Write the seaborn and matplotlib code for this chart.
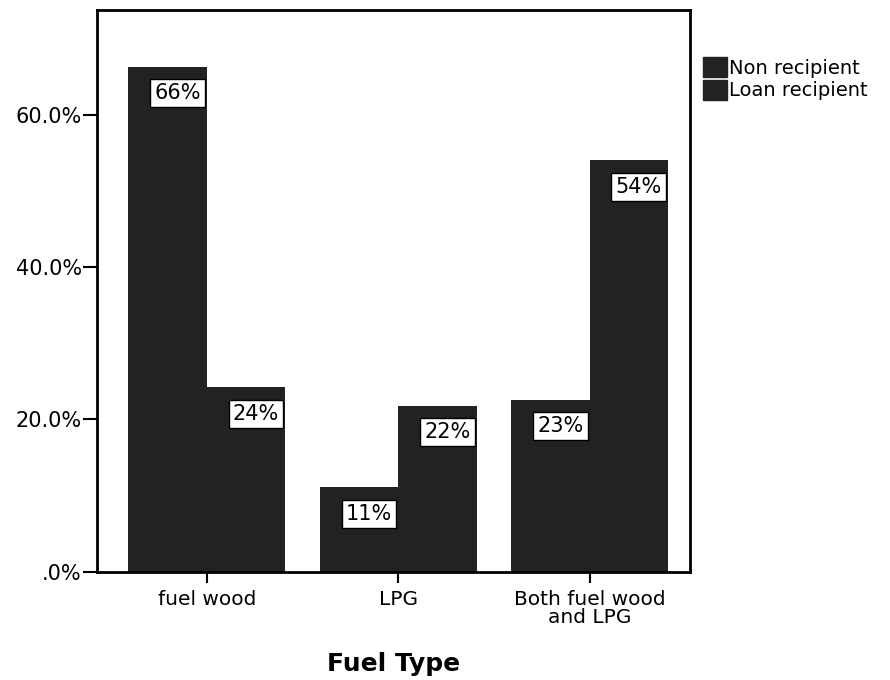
import matplotlib
matplotlib.use("Agg")
import matplotlib.pyplot as plt
import seaborn as sns
import pandas as pd
from matplotlib.patches import Patch

# Share of households by fuel type, per loan status (percent)
fuel_types = ["fuel wood", "LPG", "Both fuel wood\nand LPG"]
groups = ["Non recipient", "Loan recipient"]
non_recipient = [66.3, 11.1, 22.6]
loan_recipient = [24.2, 21.8, 54.0]
y_ticks = [0, 20, 40, 60]
y_tick_labels = [".0%", "20.0%", "40.0%", "60.0%"]

df = pd.DataFrame({
    "Fuel Type": fuel_types * 2,
    "Group": [groups[0]] * 3 + [groups[1]] * 3,
    "Percent": non_recipient + loan_recipient,
})

sns.set_theme(style="white")
plt.rcParams["font.family"] = ["DejaVu Sans"]
plt.rcParams["text.color"] = "black"
plt.rcParams["axes.labelcolor"] = "black"
plt.rcParams["xtick.color"] = "black"
plt.rcParams["ytick.color"] = "black"

bar_color = "#222222"
fig = plt.figure(figsize=(8.9, 6.8), dpi=100)
ax = fig.add_axes([0.109, 0.159, 0.666, 0.826])

sns.barplot(data=df, x="Fuel Type", y="Percent", hue="Group", hue_order=groups,
            order=fuel_types, palette=[bar_color, bar_color], width=0.82,
            saturation=1, edgecolor=bar_color, linewidth=0, ax=ax, legend=False)

ax.set_ylim(0, 73.7)
ax.set_xlim(-0.574, 2.522)
ax.set_yticks(y_ticks)
ax.set_yticklabels(y_tick_labels, fontsize=15)
ax.set_xticks(range(len(fuel_types)))
ax.set_xticklabels(fuel_types, fontsize=14.5, linespacing=0.95)
ax.tick_params(axis="x", length=8, width=1.5, color="black",
               direction="out", bottom=True, pad=5, labelcolor="black")
ax.tick_params(axis="y", length=10, width=1.5, color="black", direction="out",
               left=True, pad=1, labelcolor="black")
for spine in ax.spines.values():
    spine.set_visible(True)
    spine.set_color("black")
    spine.set_linewidth(2)

# Value labels in white boxes just under each bar top
for container in ax.containers:
    for bar in container:
        h = bar.get_height()
        ax.annotate(f"{h:.0f}%",
                    xy=(bar.get_x() + bar.get_width() / 2, h),
                    xytext=(7, -19), textcoords="offset points",
                    ha="center", va="center", fontsize=15, color="black",
                    bbox=dict(boxstyle="square,pad=0.2", fc="white",
                              ec="black", lw=1))

ax.set_ylabel("")
ax.set_xlabel("Fuel Type", fontsize=18, fontweight="bold", labelpad=18,
              color="black")

handles = [Patch(facecolor=bar_color, edgecolor=bar_color) for _ in groups]
ax.legend(handles, groups, loc="upper left", bbox_to_anchor=(1.01, 0.93),
          frameon=False, fontsize=14, handlelength=1.2, handleheight=1.2,
          handletextpad=0.1, labelspacing=0.1, borderaxespad=0)

fig.savefig("out.png", dpi=100)
